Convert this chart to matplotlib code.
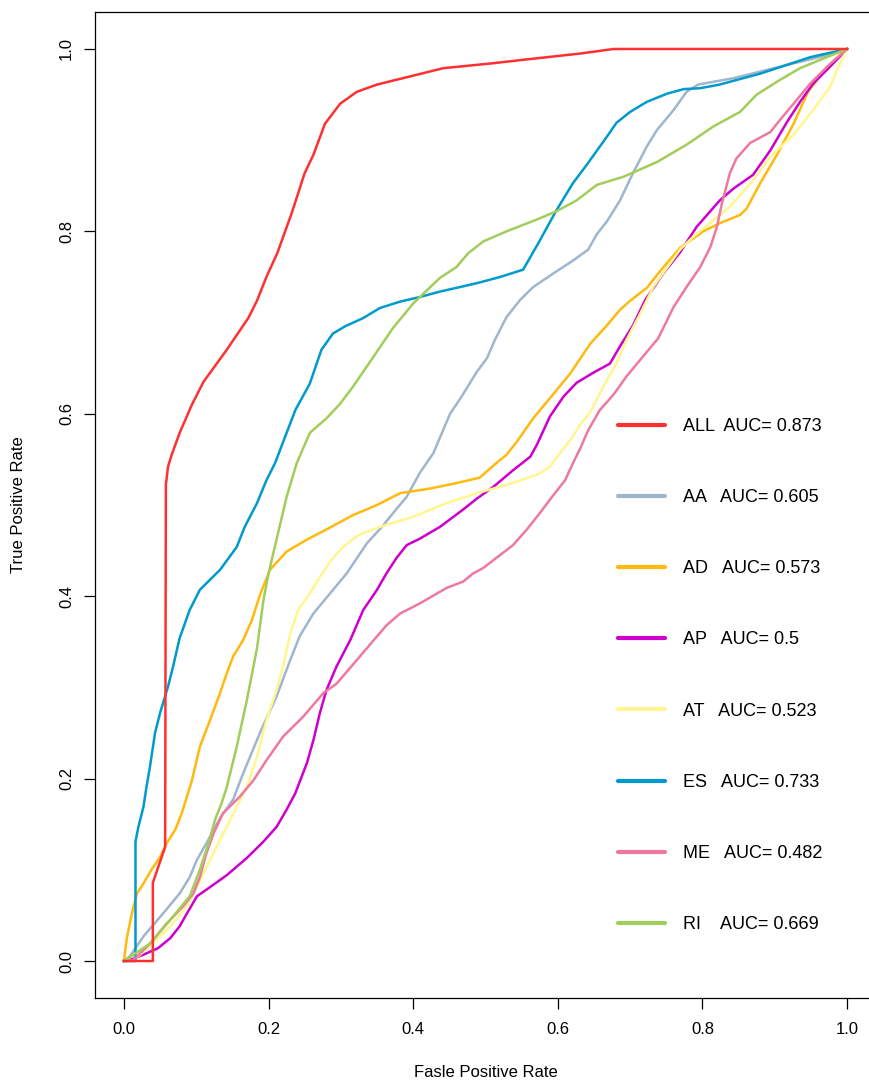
import matplotlib
matplotlib.use("Agg")
import matplotlib.pyplot as plt

plt.rcParams['font.family'] = ['Liberation Sans', 'DejaVu Sans']

# ROC curves (false positive rate, true positive rate) per feature set
all_fpr = [0.0, 0.040, 0.040, 0.057, 0.058, 0.061, 0.066, 0.077, 0.094, 0.110, 0.142, 0.172,
           0.184, 0.197, 0.212, 0.232, 0.250, 0.262, 0.278, 0.299, 0.322, 0.350, 0.391, 0.442,
           0.506, 0.562, 0.631, 0.677, 1.0]
all_tpr = [0.0, 0.0, 0.086, 0.125, 0.522, 0.542, 0.555, 0.579, 0.610, 0.635, 0.670, 0.705,
           0.724, 0.750, 0.776, 0.820, 0.864, 0.884, 0.918, 0.940, 0.953, 0.961, 0.969, 0.979,
           0.984, 0.989, 0.995, 1.0, 1.0]

aa_fpr = [0.0, 0.008, 0.027, 0.054, 0.077, 0.091, 0.101, 0.114, 0.133, 0.151, 0.165, 0.188,
          0.211, 0.230, 0.243, 0.262, 0.285, 0.308, 0.336, 0.359, 0.372, 0.391, 0.409, 0.428,
          0.451, 0.467, 0.488, 0.502, 0.513, 0.529, 0.548, 0.566, 0.594, 0.621, 0.642, 0.654,
          0.668, 0.686, 0.704, 0.723, 0.737, 0.760, 0.778, 0.794, 0.843, 0.889, 0.935, 0.977, 1.0]
aa_tpr = [0.0, 0.005, 0.027, 0.052, 0.074, 0.092, 0.111, 0.129, 0.157, 0.177, 0.206, 0.250,
          0.290, 0.330, 0.356, 0.381, 0.403, 0.425, 0.458, 0.478, 0.491, 0.509, 0.535, 0.557,
          0.600, 0.619, 0.646, 0.661, 0.681, 0.706, 0.725, 0.739, 0.754, 0.768, 0.780, 0.797,
          0.811, 0.834, 0.864, 0.893, 0.911, 0.933, 0.953, 0.961, 0.968, 0.977, 0.986, 0.994, 1.0]

ad_fpr = [0.0, 0.004, 0.011, 0.018, 0.027, 0.038, 0.050, 0.059, 0.071, 0.080, 0.087, 0.094,
          0.105, 0.119, 0.133, 0.142, 0.151, 0.165, 0.177, 0.188, 0.202, 0.225, 0.253, 0.282,
          0.317, 0.350, 0.382, 0.423, 0.460, 0.492, 0.515, 0.529, 0.543, 0.566, 0.589, 0.617,
          0.645, 0.668, 0.686, 0.700, 0.723, 0.741, 0.769, 0.801, 0.824, 0.852, 0.861, 0.880,
          0.903, 0.926, 0.946, 0.972, 1.0]
ad_tpr = [0.0, 0.025, 0.052, 0.074, 0.085, 0.100, 0.114, 0.129, 0.144, 0.162, 0.180, 0.198,
          0.235, 0.264, 0.294, 0.315, 0.334, 0.352, 0.374, 0.401, 0.429, 0.449, 0.462, 0.474,
          0.489, 0.500, 0.513, 0.518, 0.524, 0.530, 0.546, 0.555, 0.569, 0.595, 0.617, 0.644,
          0.677, 0.697, 0.714, 0.724, 0.738, 0.756, 0.782, 0.800, 0.809, 0.818, 0.825, 0.853,
          0.884, 0.918, 0.953, 0.980, 1.0]

ap_fpr = [0.0, 0.008, 0.027, 0.047, 0.064, 0.077, 0.087, 0.101, 0.119, 0.142, 0.170, 0.193,
          0.211, 0.225, 0.237, 0.253, 0.262, 0.271, 0.280, 0.294, 0.313, 0.331, 0.350, 0.363,
          0.377, 0.391, 0.409, 0.437, 0.469, 0.488, 0.511, 0.538, 0.562, 0.571, 0.589, 0.608,
          0.626, 0.649, 0.672, 0.686, 0.704, 0.721, 0.746, 0.769, 0.792, 0.824, 0.843, 0.870,
          0.894, 0.917, 0.935, 0.953, 0.977, 1.0]
ap_tpr = [0.0, 0.001, 0.007, 0.014, 0.025, 0.038, 0.052, 0.071, 0.081, 0.094, 0.113, 0.131,
          0.147, 0.166, 0.184, 0.217, 0.242, 0.272, 0.297, 0.323, 0.352, 0.385, 0.407, 0.425,
          0.442, 0.456, 0.463, 0.476, 0.495, 0.507, 0.520, 0.538, 0.553, 0.566, 0.597, 0.619,
          0.634, 0.645, 0.655, 0.674, 0.697, 0.725, 0.754, 0.777, 0.805, 0.834, 0.847, 0.862,
          0.889, 0.920, 0.942, 0.962, 0.981, 1.0]

at_fpr = [0.0, 0.013, 0.036, 0.064, 0.087, 0.101, 0.114, 0.128, 0.142, 0.156, 0.170, 0.184,
          0.197, 0.211, 0.220, 0.230, 0.241, 0.257, 0.271, 0.287, 0.303, 0.324, 0.354, 0.400,
          0.446, 0.488, 0.529, 0.571, 0.589, 0.603, 0.619, 0.631, 0.645, 0.663, 0.681, 0.695,
          0.714, 0.732, 0.751, 0.769, 0.787, 0.815, 0.838, 0.870, 0.894, 0.926, 0.953, 0.977,
          0.986, 1.0]
at_tpr = [0.0, 0.001, 0.016, 0.038, 0.060, 0.081, 0.103, 0.125, 0.147, 0.169, 0.191, 0.224,
          0.264, 0.297, 0.323, 0.359, 0.385, 0.403, 0.421, 0.440, 0.454, 0.467, 0.476, 0.487,
          0.502, 0.513, 0.522, 0.533, 0.542, 0.557, 0.573, 0.588, 0.602, 0.630, 0.655, 0.681,
          0.710, 0.739, 0.760, 0.780, 0.794, 0.812, 0.827, 0.856, 0.882, 0.906, 0.933, 0.959,
          0.977, 1.0]

es_fpr = [0.0, 0.016, 0.016, 0.020, 0.027, 0.031, 0.036, 0.043, 0.050, 0.061, 0.068, 0.077,
          0.091, 0.105, 0.133, 0.156, 0.167, 0.184, 0.197, 0.209, 0.223, 0.237, 0.257, 0.273,
          0.289, 0.306, 0.331, 0.354, 0.382, 0.409, 0.437, 0.465, 0.492, 0.520, 0.552, 0.573,
          0.598, 0.621, 0.640, 0.668, 0.681, 0.700, 0.723, 0.751, 0.774, 0.797, 0.824, 0.847,
          0.880, 0.907, 0.949, 1.0]
es_tpr = [0.0, 0.0, 0.131, 0.147, 0.169, 0.190, 0.213, 0.250, 0.272, 0.301, 0.323, 0.354,
          0.385, 0.407, 0.429, 0.454, 0.476, 0.502, 0.527, 0.546, 0.575, 0.604, 0.633, 0.670,
          0.688, 0.696, 0.705, 0.716, 0.723, 0.728, 0.734, 0.739, 0.744, 0.750, 0.758, 0.787,
          0.823, 0.853, 0.873, 0.904, 0.919, 0.931, 0.942, 0.951, 0.956, 0.957, 0.961, 0.966,
          0.973, 0.980, 0.991, 1.0]

me_fpr = [0.0, 0.013, 0.036, 0.059, 0.082, 0.096, 0.105, 0.114, 0.124, 0.137, 0.160, 0.179,
          0.197, 0.220, 0.248, 0.276, 0.294, 0.322, 0.350, 0.363, 0.382, 0.409, 0.446, 0.469,
          0.483, 0.497, 0.515, 0.538, 0.557, 0.575, 0.594, 0.610, 0.621, 0.631, 0.642, 0.658,
          0.677, 0.695, 0.718, 0.739, 0.760, 0.778, 0.797, 0.811, 0.820, 0.827, 0.838, 0.847,
          0.866, 0.894, 0.907, 0.926, 0.949, 0.977, 1.0]
me_tpr = [0.0, 0.001, 0.019, 0.041, 0.060, 0.074, 0.092, 0.118, 0.140, 0.162, 0.180, 0.198,
          0.220, 0.246, 0.268, 0.294, 0.304, 0.330, 0.356, 0.368, 0.381, 0.392, 0.409, 0.416,
          0.425, 0.431, 0.442, 0.456, 0.473, 0.491, 0.511, 0.527, 0.546, 0.562, 0.582, 0.604,
          0.621, 0.641, 0.663, 0.683, 0.717, 0.739, 0.761, 0.783, 0.805, 0.831, 0.864, 0.880,
          0.897, 0.909, 0.922, 0.940, 0.962, 0.984, 1.0]

ri_fpr = [0.0, 0.036, 0.064, 0.091, 0.105, 0.117, 0.126, 0.135, 0.142, 0.156, 0.170, 0.184,
          0.193, 0.200, 0.211, 0.225, 0.239, 0.257, 0.280, 0.299, 0.317, 0.336, 0.354, 0.372,
          0.400, 0.437, 0.460, 0.476, 0.497, 0.529, 0.571, 0.598, 0.626, 0.654, 0.691, 0.737,
          0.778, 0.815, 0.852, 0.875, 0.907, 0.935, 0.972, 1.0]
ri_tpr = [0.0, 0.019, 0.045, 0.071, 0.100, 0.129, 0.155, 0.173, 0.190, 0.235, 0.286, 0.343,
          0.396, 0.425, 0.462, 0.509, 0.546, 0.579, 0.595, 0.611, 0.630, 0.652, 0.673, 0.694,
          0.721, 0.749, 0.761, 0.776, 0.789, 0.800, 0.813, 0.822, 0.834, 0.851, 0.860, 0.876,
          0.895, 0.915, 0.931, 0.950, 0.966, 0.979, 0.991, 1.0]

names = ['ALL', 'AA', 'AD', 'AP', 'AT', 'ES', 'ME', 'RI']
auc_values = ['0.873', '0.605', '0.573', '0.5', '0.523', '0.733', '0.482', '0.669']
label_gaps = ['  ', '   ', '   ', '   ', '   ', '   ', '   ', '    ']
colors = ['#FF3030', '#9FB6CD', '#FFB90F', '#CD00CD', '#FFF68F', '#009ACD', '#EE799F', '#A2CD5A']
curves = [(all_fpr, all_tpr), (aa_fpr, aa_tpr), (ad_fpr, ad_tpr), (ap_fpr, ap_tpr),
          (at_fpr, at_tpr), (es_fpr, es_tpr), (me_fpr, me_tpr), (ri_fpr, ri_tpr)]

fig = plt.figure(figsize=(8.7, 10.8), dpi=100)
ax = fig.add_axes([95 / 870, 82.5 / 1080, 781 / 870, 985 / 1080])

handles = []
for i in range(len(names)):
    fpr, tpr = curves[i]
    # the combined model goes on top of the others
    z = 3 if i == 0 else 2
    ax.plot(fpr, tpr, color=colors[i], linewidth=1.8, zorder=z)
    h, = ax.plot([], [], color=colors[i], linewidth=3.0, solid_capstyle='round')
    handles.append(h)

labels = [names[i] + label_gaps[i] + 'AUC= ' + auc_values[i] for i in range(len(names))]
ax.legend(handles, labels, loc='upper left', bbox_to_anchor=(618 / 870, 1 - 418 / 1080),
          bbox_transform=fig.transFigure, frameon=False, fontsize=13,
          handlelength=2.6, handletextpad=1.0, labelspacing=3.0,
          borderpad=0, borderaxespad=0)

ax.set_xlim(-0.04, 1.04)
ax.set_ylim(-0.04, 1.04)
ax.set_xticks([0.0, 0.2, 0.4, 0.6, 0.8, 1.0])
ax.set_yticks([0.0, 0.2, 0.4, 0.6, 0.8, 1.0])
ax.set_xticklabels(['0.0', '0.2', '0.4', '0.6', '0.8', '1.0'])
ax.set_yticklabels(['0.0', '0.2', '0.4', '0.6', '0.8', '1.0'], rotation=90, va='center')
ax.tick_params(direction='out', length=8, width=0.9, labelsize=12)
ax.tick_params(axis='x', pad=10)
ax.tick_params(axis='y', pad=7)
for side in ax.spines.values():
    side.set_linewidth(0.9)

ax.set_xlabel('Fasle Positive Rate', fontsize=12, labelpad=20)
ax.set_ylabel('True Positive Rate', fontsize=12, labelpad=24)

fig.savefig('out.png', dpi=100)
